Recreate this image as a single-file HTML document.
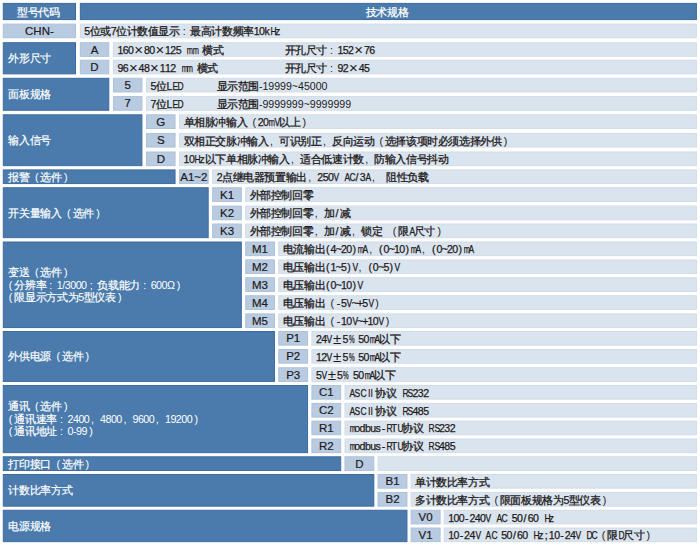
<!DOCTYPE html>
<html lang="zh"><head><meta charset="utf-8"><style>
*{margin:0;padding:0;box-sizing:border-box}
html,body{width:700px;height:545px;background:#fff;overflow:hidden}
body{position:relative;font-family:"Liberation Sans",sans-serif;}
svg{position:absolute;left:0;top:0}
div{position:absolute;display:flex;align-items:center;white-space:nowrap}
div>span{display:block;line-height:12px}
b.ln{display:block;font-weight:normal;line-height:12.6px} b.hg{margin-left:-4.9px}
i{display:inline-block;width:var(--cw);text-align:center;font-style:normal;font-size:var(--cf);-webkit-text-stroke:var(--sw) currentColor;line-height:10px}
i.pa,i.pb,i.pc2,i.pd,i.pc{text-align:left;-webkit-text-stroke:0;font-size:var(--fs)}
i.pa{padding-left:.5em} i.pb{padding-left:.22em} i.pc2{padding-left:.3em} i.pd{padding-left:.15em}
i.pc{font-size:15px;text-align:center;vertical-align:-1px}
i.r2{font-size:var(--fs);vertical-align:0;letter-spacing:-0.5px}
u{display:inline-block;width:.5em;text-align:center;text-decoration:none;-webkit-text-stroke:0.25px currentColor}
u.q9{transform:scaleX(.9)} u.q8{transform:scaleX(.8)} u.q7{transform:scaleX(.7)} u.q6{transform:scaleX(.6)} u.q5{transform:scaleX(.5)}
.mn{letter-spacing:0!important;word-spacing:0!important}
.hc{justify-content:center;--fs:10.8px;--cw:10.8px;--cf:11px;--sw:1px;font-size:10.8px;color:#fff;padding-right:2.2px;padding-top:1.2px}
.cc{justify-content:center;font-size:11.5px;-webkit-text-stroke:0.2px #1e1a1a;color:#1e1a1a}
.lab{--fs:10.7px;--cw:10.7px;--cf:11px;--sw:1px;font-size:10.7px;letter-spacing:-0.5px;padding-left:5.5px;color:#fff}
.ds{--fs:10.6px;--cw:10.6px;--cf:10.9px;--sw:1.2px;font-size:10.6px;padding-left:4.5px;padding-top:1.1px;color:#1e1a1a}
html.cjk .hc{--sw:0.25px} html.cjk .lab{--sw:0.2px} html.cjk .ds{--sw:0.3px}
</style></head>
<body>
<svg width="700" height="545" viewBox="0 0 700 545">
<rect x="3.30" y="3.40" width="72.20" height="16.20" fill="#4a7bac" stroke="#3c6b9f"/>
<rect x="80.34" y="3.40" width="616.06" height="16.20" fill="#4a7bac" stroke="#3c6b9f"/>
<rect x="3.30" y="24.10" width="72.20" height="13.66" fill="#b8cbe1" stroke="#adc1d9"/>
<rect x="80.34" y="24.10" width="616.06" height="13.66" fill="#dae4ee" stroke="#d1dce8"/>
<rect x="3.30" y="42.70" width="72.20" height="31.16" fill="#4a7bac" stroke="#3c6b9f"/>
<rect x="80.34" y="42.70" width="28.45" height="13.66" fill="#b8cbe1" stroke="#adc1d9"/>
<rect x="113.42" y="42.70" width="582.98" height="13.66" fill="#dae4ee" stroke="#d1dce8"/>
<rect x="80.34" y="60.20" width="28.45" height="13.66" fill="#b8cbe1" stroke="#adc1d9"/>
<rect x="113.42" y="60.20" width="582.98" height="13.66" fill="#dae4ee" stroke="#d1dce8"/>
<rect x="3.30" y="78.30" width="105.49" height="31.96" fill="#4a7bac" stroke="#3c6b9f"/>
<rect x="113.42" y="78.30" width="28.50" height="13.66" fill="#b8cbe1" stroke="#adc1d9"/>
<rect x="146.50" y="78.30" width="549.90" height="13.66" fill="#dae4ee" stroke="#d1dce8"/>
<rect x="113.42" y="96.60" width="28.50" height="13.66" fill="#b8cbe1" stroke="#adc1d9"/>
<rect x="146.50" y="96.60" width="549.90" height="13.66" fill="#dae4ee" stroke="#d1dce8"/>
<rect x="3.30" y="114.80" width="138.62" height="50.86" fill="#4a7bac" stroke="#3c6b9f"/>
<rect x="146.50" y="114.80" width="28.55" height="13.66" fill="#b8cbe1" stroke="#adc1d9"/>
<rect x="179.58" y="114.80" width="516.82" height="13.66" fill="#dae4ee" stroke="#d1dce8"/>
<rect x="146.50" y="133.40" width="28.55" height="13.66" fill="#b8cbe1" stroke="#adc1d9"/>
<rect x="179.58" y="133.40" width="516.82" height="13.66" fill="#dae4ee" stroke="#d1dce8"/>
<rect x="146.50" y="152.00" width="28.55" height="13.66" fill="#b8cbe1" stroke="#adc1d9"/>
<rect x="179.58" y="152.00" width="516.82" height="13.66" fill="#dae4ee" stroke="#d1dce8"/>
<rect x="3.30" y="169.90" width="171.75" height="13.66" fill="#4a7bac" stroke="#3c6b9f"/>
<rect x="179.58" y="169.90" width="28.60" height="13.66" fill="#b8cbe1" stroke="#adc1d9"/>
<rect x="212.66" y="169.90" width="483.74" height="13.66" fill="#dae4ee" stroke="#d1dce8"/>
<rect x="3.30" y="187.75" width="204.88" height="49.91" fill="#4a7bac" stroke="#3c6b9f"/>
<rect x="212.66" y="187.75" width="28.65" height="13.66" fill="#b8cbe1" stroke="#adc1d9"/>
<rect x="245.74" y="187.75" width="450.66" height="13.66" fill="#dae4ee" stroke="#d1dce8"/>
<rect x="212.66" y="206.10" width="28.65" height="13.66" fill="#b8cbe1" stroke="#adc1d9"/>
<rect x="245.74" y="206.10" width="450.66" height="13.66" fill="#dae4ee" stroke="#d1dce8"/>
<rect x="212.66" y="224.00" width="28.65" height="13.66" fill="#b8cbe1" stroke="#adc1d9"/>
<rect x="245.74" y="224.00" width="450.66" height="13.66" fill="#dae4ee" stroke="#d1dce8"/>
<rect x="3.30" y="242.00" width="238.01" height="85.56" fill="#4a7bac" stroke="#3c6b9f"/>
<rect x="245.74" y="242.00" width="28.70" height="13.66" fill="#b8cbe1" stroke="#adc1d9"/>
<rect x="278.82" y="242.00" width="417.58" height="13.66" fill="#dae4ee" stroke="#d1dce8"/>
<rect x="245.74" y="259.90" width="28.70" height="13.66" fill="#b8cbe1" stroke="#adc1d9"/>
<rect x="278.82" y="259.90" width="417.58" height="13.66" fill="#dae4ee" stroke="#d1dce8"/>
<rect x="245.74" y="277.75" width="28.70" height="13.66" fill="#b8cbe1" stroke="#adc1d9"/>
<rect x="278.82" y="277.75" width="417.58" height="13.66" fill="#dae4ee" stroke="#d1dce8"/>
<rect x="245.74" y="295.75" width="28.70" height="13.66" fill="#b8cbe1" stroke="#adc1d9"/>
<rect x="278.82" y="295.75" width="417.58" height="13.66" fill="#dae4ee" stroke="#d1dce8"/>
<rect x="245.74" y="313.90" width="28.70" height="13.66" fill="#b8cbe1" stroke="#adc1d9"/>
<rect x="278.82" y="313.90" width="417.58" height="13.66" fill="#dae4ee" stroke="#d1dce8"/>
<rect x="3.30" y="331.50" width="271.14" height="49.91" fill="#4a7bac" stroke="#3c6b9f"/>
<rect x="278.82" y="331.50" width="28.75" height="13.66" fill="#b8cbe1" stroke="#adc1d9"/>
<rect x="311.90" y="331.50" width="384.50" height="13.66" fill="#dae4ee" stroke="#d1dce8"/>
<rect x="278.82" y="349.50" width="28.75" height="13.66" fill="#b8cbe1" stroke="#adc1d9"/>
<rect x="311.90" y="349.50" width="384.50" height="13.66" fill="#dae4ee" stroke="#d1dce8"/>
<rect x="278.82" y="367.75" width="28.75" height="13.66" fill="#b8cbe1" stroke="#adc1d9"/>
<rect x="311.90" y="367.75" width="384.50" height="13.66" fill="#dae4ee" stroke="#d1dce8"/>
<rect x="3.30" y="385.50" width="304.27" height="67.16" fill="#4a7bac" stroke="#3c6b9f"/>
<rect x="311.90" y="385.50" width="28.80" height="13.66" fill="#b8cbe1" stroke="#adc1d9"/>
<rect x="344.98" y="385.50" width="351.42" height="13.66" fill="#dae4ee" stroke="#d1dce8"/>
<rect x="311.90" y="403.40" width="28.80" height="13.66" fill="#b8cbe1" stroke="#adc1d9"/>
<rect x="344.98" y="403.40" width="351.42" height="13.66" fill="#dae4ee" stroke="#d1dce8"/>
<rect x="311.90" y="421.10" width="28.80" height="13.66" fill="#b8cbe1" stroke="#adc1d9"/>
<rect x="344.98" y="421.10" width="351.42" height="13.66" fill="#dae4ee" stroke="#d1dce8"/>
<rect x="311.90" y="439.00" width="28.80" height="13.66" fill="#b8cbe1" stroke="#adc1d9"/>
<rect x="344.98" y="439.00" width="351.42" height="13.66" fill="#dae4ee" stroke="#d1dce8"/>
<rect x="3.30" y="456.80" width="337.40" height="13.66" fill="#4a7bac" stroke="#3c6b9f"/>
<rect x="344.98" y="456.80" width="28.85" height="13.66" fill="#b8cbe1" stroke="#adc1d9"/>
<rect x="378.06" y="456.80" width="318.34" height="13.66" fill="#dae4ee" stroke="#d1dce8"/>
<rect x="3.30" y="474.50" width="370.53" height="31.66" fill="#4a7bac" stroke="#3c6b9f"/>
<rect x="378.06" y="474.50" width="28.90" height="13.66" fill="#b8cbe1" stroke="#adc1d9"/>
<rect x="411.14" y="474.50" width="285.26" height="13.66" fill="#dae4ee" stroke="#d1dce8"/>
<rect x="378.06" y="492.50" width="28.90" height="13.66" fill="#b8cbe1" stroke="#adc1d9"/>
<rect x="411.14" y="492.50" width="285.26" height="13.66" fill="#dae4ee" stroke="#d1dce8"/>
<rect x="3.30" y="510.25" width="403.66" height="31.41" fill="#4a7bac" stroke="#3c6b9f"/>
<rect x="411.14" y="510.25" width="28.95" height="13.66" fill="#b8cbe1" stroke="#adc1d9"/>
<rect x="444.22" y="510.25" width="252.18" height="13.66" fill="#dae4ee" stroke="#d1dce8"/>
<rect x="411.14" y="528.00" width="28.95" height="13.66" fill="#b8cbe1" stroke="#adc1d9"/>
<rect x="444.22" y="528.00" width="252.18" height="13.66" fill="#dae4ee" stroke="#d1dce8"/>
</svg>
<div class="hc" style="left:2.8px;top:2.9px;width:73.2px;height:17.2px;"><span><i>型</i><i>号</i><i>代</i><i>码</i></span></div>
<div class="hc" style="left:79.8px;top:2.9px;width:617.1px;height:17.2px;"><span><i>技</i><i>术</i><i>规</i><i>格</i></span></div>
<div class="cc" style="left:2.8px;top:23.6px;width:73.2px;height:14.7px;"><span>CHN-</span></div>
<div class="ds mn" style="left:79.8px;top:23.6px;width:617.1px;height:14.7px;"><span><u>5</u><i>位</i><i>或</i><u>7</u><i>位</i><i>计</i><i>数</i><i>值</i><i>显</i><i>示</i><i class="pc2">:</i><i>最</i><i>高</i><i>计</i><i>数</i><i>频</i><i>率</i><u>1</u><u>0</u><u>k</u><u class="q8">H</u><u>z</u></span></div>
<div class="lab" style="left:2.8px;top:42.2px;width:73.2px;height:32.2px;"><span><i>外</i><i>形</i><i>尺</i><i>寸</i></span></div>
<div class="cc" style="left:79.8px;top:42.2px;width:29.4px;height:14.7px;"><span>A</span></div>
<div class="ds mn" style="left:112.9px;top:42.2px;width:584.0px;height:14.7px;"><span><u>1</u><u>6</u><u>0</u><i class="pc">×</i><u>8</u><u>0</u><i class="pc">×</i><u>1</u><u>2</u><u>5</u><u> </u><u class="q7">m</u><u class="q7">m</u><u> </u><i>横</i><i>式</i></span></div>
<div class="ds mn" style="left:280.0px;top:42.2px;width:416.9px;height:14.7px;"><span><i>开</i><i>孔</i><i>尺</i><i>寸</i><i class="pc2">:</i><u>1</u><u>5</u><u>2</u><i class="pc">×</i><u>7</u><u>6</u></span></div>
<div class="cc" style="left:79.8px;top:59.7px;width:29.4px;height:14.7px;"><span>D</span></div>
<div class="ds mn" style="left:112.9px;top:59.7px;width:584.0px;height:14.7px;"><span><u>9</u><u>6</u><i class="pc">×</i><u>4</u><u>8</u><i class="pc">×</i><u>1</u><u>1</u><u>2</u><u> </u><u class="q7">m</u><u class="q7">m</u><u> </u><i>横</i><i>式</i></span></div>
<div class="ds mn" style="left:280.0px;top:59.7px;width:416.9px;height:14.7px;"><span><i>开</i><i>孔</i><i>尺</i><i>寸</i><i class="pc2">:</i><u>9</u><u>2</u><i class="pc">×</i><u>4</u><u>5</u></span></div>
<div class="lab" style="left:2.8px;top:77.8px;width:106.5px;height:33.0px;"><span><i>面</i><i>板</i><i>规</i><i>格</i></span></div>
<div class="cc" style="left:112.9px;top:77.8px;width:29.5px;height:14.7px;"><span>5</span></div>
<div class="ds mn" style="left:146.0px;top:77.8px;width:550.9px;height:14.7px;"><span><u>5</u><i>位</i><u>L</u><u class="q8">E</u><u class="q8">D</u></span></div>
<div class="ds" style="left:212.0px;top:77.8px;width:484.9px;height:14.7px;"><span><i>显</i><i>示</i><i>范</i><i>围</i>-19999~45000</span></div>
<div class="cc" style="left:112.9px;top:96.1px;width:29.5px;height:14.7px;"><span>7</span></div>
<div class="ds mn" style="left:146.0px;top:96.1px;width:550.9px;height:14.7px;"><span><u>7</u><i>位</i><u>L</u><u class="q8">E</u><u class="q8">D</u></span></div>
<div class="ds" style="left:212.0px;top:96.1px;width:484.9px;height:14.7px;"><span><i>显</i><i>示</i><i>范</i><i>围</i>-9999999~9999999</span></div>
<div class="lab" style="left:2.8px;top:114.3px;width:139.6px;height:51.9px;"><span><i>输</i><i>入</i><i>信</i><i>号</i></span></div>
<div class="cc" style="left:146.0px;top:114.3px;width:29.6px;height:14.7px;"><span>G</span></div>
<div class="ds mn" style="left:179.1px;top:114.3px;width:517.8px;height:14.7px;"><span><i>单</i><i>相</i><i>脉</i><i>冲</i><i>输</i><i>入</i><i class="pa">(</i><u>2</u><u>0</u><u class="q7">m</u><u class="q8">V</u><i>以</i><i>上</i><i class="pb">)</i></span></div>
<div class="cc" style="left:146.0px;top:132.9px;width:29.6px;height:14.7px;"><span>S</span></div>
<div class="ds mn" style="left:179.1px;top:132.9px;width:517.8px;height:14.7px;"><span><i>双</i><i>相</i><i>正</i><i>交</i><i>脉</i><i>冲</i><i>输</i><i>入</i><i class="pd">,</i><i>可</i><i>识</i><i>别</i><i>正</i><i class="pd">,</i><i>反</i><i>向</i><i>运</i><i>动</i><i class="pa">(</i><i>选</i><i>择</i><i>该</i><i>项</i><i>时</i><i>必</i><i>须</i><i>选</i><i>择</i><i>外</i><i>供</i><i class="pb">)</i></span></div>
<div class="cc" style="left:146.0px;top:151.5px;width:29.6px;height:14.7px;"><span>D</span></div>
<div class="ds mn" style="left:179.1px;top:151.5px;width:517.8px;height:14.7px;"><span><u>1</u><u>0</u><u class="q8">H</u><u>z</u><i>以</i><i>下</i><i>单</i><i>相</i><i>脉</i><i>冲</i><i>输</i><i>入</i><i class="pd">,</i><i>适</i><i>合</i><i>低</i><i>速</i><i>计</i><i>数</i><i class="pd">,</i><i>防</i><i>输</i><i>入</i><i>信</i><i>号</i><i>抖</i><i>动</i></span></div>
<div class="lab" style="left:2.8px;top:169.4px;width:172.8px;height:14.7px;"><span><i>报</i><i>警</i><i class="pa">(</i><i>选</i><i>件</i><i class="pb">)</i></span></div>
<div class="cc" style="left:179.1px;top:169.4px;width:29.6px;height:14.7px;"><span>A1~2</span></div>
<div class="ds mn" style="left:212.2px;top:169.4px;width:484.7px;height:14.7px;"><span><u>2</u><i>点</i><i>继</i><i>电</i><i>器</i><i>预</i><i>置</i><i>输</i><i>出</i><i class="pd">,</i><u>2</u><u>5</u><u>0</u><u class="q8">V</u><u> </u><u class="q8">A</u><u class="q8">C</u><u>/</u><u>3</u><u class="q8">A</u><i class="pd">,</i><u> </u><i>阻</i><i>性</i><i>负</i><i>载</i></span></div>
<div class="lab" style="left:2.8px;top:187.2px;width:205.9px;height:50.9px;"><span><i>开</i><i>关</i><i>量</i><i>输</i><i>入</i><i class="pa">(</i><i>选</i><i>件</i><i class="pb">)</i></span></div>
<div class="cc" style="left:212.2px;top:187.2px;width:29.7px;height:14.7px;"><span>K1</span></div>
<div class="ds mn" style="left:245.2px;top:187.2px;width:451.7px;height:14.7px;"><span><i>外</i><i>部</i><i>控</i><i>制</i><i>回</i><i>零</i></span></div>
<div class="cc" style="left:212.2px;top:205.6px;width:29.7px;height:14.7px;"><span>K2</span></div>
<div class="ds mn" style="left:245.2px;top:205.6px;width:451.7px;height:14.7px;"><span><i>外</i><i>部</i><i>控</i><i>制</i><i>回</i><i>零</i><i class="pd">,</i><i>加</i><u>/</u><i>减</i></span></div>
<div class="cc" style="left:212.2px;top:223.5px;width:29.7px;height:14.7px;"><span>K3</span></div>
<div class="ds mn" style="left:245.2px;top:223.5px;width:451.7px;height:14.7px;"><span><i>外</i><i>部</i><i>控</i><i>制</i><i>回</i><i>零</i><i class="pd">,</i><i>加</i><u>/</u><i>减</i><i class="pd">,</i><i>锁</i><i>定</i><u> </u><i class="pa">(</i><i>限</i><u class="q8">A</u><i>尺</i><i>寸</i><i class="pb">)</i></span></div>
<div class="lab" style="left:2.8px;top:241.5px;width:239.0px;height:86.6px;"><span><b class="ln"><i>变</i><i>送</i><i class="pa">(</i><i>选</i><i>件</i><i class="pb">)</i></b><b class="ln hg"><i class="pa">(</i><i>分</i><i>辨</i><i>率</i><i class="pc2">:</i>1/3000<i class="pc2">;</i><i>负</i><i>载</i><i>能</i><i>力</i><i class="pc2">:</i>600Ω<i class="pb">)</i></b><b class="ln hg"><i class="pa">(</i><i>限</i><i>显</i><i>示</i><i>方</i><i>式</i><i>为</i>5<i>型</i><i>仪</i><i>表</i><i class="pb">)</i></b></span></div>
<div class="cc" style="left:245.2px;top:241.5px;width:29.7px;height:14.7px;"><span>M1</span></div>
<div class="ds mn" style="left:278.3px;top:241.5px;width:418.6px;height:14.7px;"><span><i>电</i><i>流</i><i>输</i><i>出</i><u>(</u><u>4</u><u>~</u><u>2</u><u>0</u><u>)</u><u class="q7">m</u><u class="q8">A</u><i class="pd">,</i><u>(</u><u>0</u><u>~</u><u>1</u><u>0</u><u>)</u><u class="q7">m</u><u class="q8">A</u><i class="pd">,</i><u>(</u><u>0</u><u>~</u><u>2</u><u>0</u><u>)</u><u class="q7">m</u><u class="q8">A</u></span></div>
<div class="cc" style="left:245.2px;top:259.4px;width:29.7px;height:14.7px;"><span>M2</span></div>
<div class="ds mn" style="left:278.3px;top:259.4px;width:418.6px;height:14.7px;"><span><i>电</i><i>压</i><i>输</i><i>出</i><u>(</u><u>1</u><u>~</u><u>5</u><u>)</u><u class="q8">V</u><i class="pd">,</i><u>(</u><u>0</u><u>~</u><u>5</u><u>)</u><u class="q8">V</u></span></div>
<div class="cc" style="left:245.2px;top:277.2px;width:29.7px;height:14.7px;"><span>M3</span></div>
<div class="ds mn" style="left:278.3px;top:277.2px;width:418.6px;height:14.7px;"><span><i>电</i><i>压</i><i>输</i><i>出</i><u>(</u><u>0</u><u>~</u><u>1</u><u>0</u><u>)</u><u class="q8">V</u></span></div>
<div class="cc" style="left:245.2px;top:295.2px;width:29.7px;height:14.7px;"><span>M4</span></div>
<div class="ds mn" style="left:278.3px;top:295.2px;width:418.6px;height:14.7px;"><span><i>电</i><i>压</i><i>输</i><i>出</i><i class="pa">(</i><u>-</u><u>5</u><u class="q8">V</u><u>~</u><u>+</u><u>5</u><u class="q8">V</u><i class="pb">)</i></span></div>
<div class="cc" style="left:245.2px;top:313.4px;width:29.7px;height:14.7px;"><span>M5</span></div>
<div class="ds mn" style="left:278.3px;top:313.4px;width:418.6px;height:14.7px;"><span><i>电</i><i>压</i><i>输</i><i>出</i><i class="pa">(</i><u>-</u><u>1</u><u>0</u><u class="q8">V</u><u>~</u><u>+</u><u>1</u><u>0</u><u class="q8">V</u><i class="pb">)</i></span></div>
<div class="lab" style="left:2.8px;top:331.0px;width:272.1px;height:50.9px;"><span><i>外</i><i>供</i><i>电</i><i>源</i><i class="pa">(</i><i>选</i><i>件</i><i class="pb">)</i></span></div>
<div class="cc" style="left:278.3px;top:331.0px;width:29.8px;height:14.7px;"><span>P1</span></div>
<div class="ds mn" style="left:311.4px;top:331.0px;width:385.5px;height:14.7px;"><span><u>2</u><u>4</u><u class="q8">V</u><i class="pc">±</i><u>5</u><u class="q6">%</u><u> </u><u>5</u><u>0</u><u class="q7">m</u><u class="q8">A</u><i>以</i><i>下</i></span></div>
<div class="cc" style="left:278.3px;top:349.0px;width:29.8px;height:14.7px;"><span>P2</span></div>
<div class="ds mn" style="left:311.4px;top:349.0px;width:385.5px;height:14.7px;"><span><u>1</u><u>2</u><u class="q8">V</u><i class="pc">±</i><u>5</u><u class="q6">%</u><u> </u><u>5</u><u>0</u><u class="q7">m</u><u class="q8">A</u><i>以</i><i>下</i></span></div>
<div class="cc" style="left:278.3px;top:367.2px;width:29.8px;height:14.7px;"><span>P3</span></div>
<div class="ds mn" style="left:311.4px;top:367.2px;width:385.5px;height:14.7px;"><span><u>5</u><u class="q8">V</u><i class="pc">±</i><u>5</u><u class="q6">%</u><u> </u><u>5</u><u>0</u><u class="q7">m</u><u class="q8">A</u><i>以</i><i>下</i></span></div>
<div class="lab" style="left:2.8px;top:385.0px;width:305.3px;height:68.2px;"><span><b class="ln"><i>通</i><i>讯</i><i class="pa">(</i><i>选</i><i>件</i><i class="pb">)</i></b><b class="ln hg"><i class="pa">(</i><i>通</i><i>讯</i><i>速</i><i>率</i><i class="pc2">:</i>2400<i class="pd">,</i>4800<i class="pd">,</i>9600<i class="pd">,</i>19200<i class="pb">)</i></b><b class="ln hg"><i class="pa">(</i><i>通</i><i>讯</i><i>地</i><i>址</i><i class="pc2">:</i>0-99<i class="pb">)</i></b></span></div>
<div class="cc" style="left:311.4px;top:385.0px;width:29.8px;height:14.7px;"><span>C1</span></div>
<div class="ds mn" style="left:344.5px;top:385.0px;width:352.4px;height:14.7px;"><span><u class="q8">A</u><u class="q8">S</u><u class="q8">C</u><i class="pc r2">II</i><i>协</i><i>议</i><u> </u><u class="q8">R</u><u class="q8">S</u><u>2</u><u>3</u><u>2</u></span></div>
<div class="cc" style="left:311.4px;top:402.9px;width:29.8px;height:14.7px;"><span>C2</span></div>
<div class="ds mn" style="left:344.5px;top:402.9px;width:352.4px;height:14.7px;"><span><u class="q8">A</u><u class="q8">S</u><u class="q8">C</u><i class="pc r2">II</i><i>协</i><i>议</i><u> </u><u class="q8">R</u><u class="q8">S</u><u>4</u><u>8</u><u>5</u></span></div>
<div class="cc" style="left:311.4px;top:420.6px;width:29.8px;height:14.7px;"><span>R1</span></div>
<div class="ds mn" style="left:344.5px;top:420.6px;width:352.4px;height:14.7px;"><span><u class="q7">m</u><u>o</u><u>d</u><u>b</u><u>u</u><u>s</u><u>-</u><u class="q8">R</u><u class="q9">T</u><u class="q8">U</u><i>协</i><i>议</i><u> </u><u class="q8">R</u><u class="q8">S</u><u>2</u><u>3</u><u>2</u></span></div>
<div class="cc" style="left:311.4px;top:438.5px;width:29.8px;height:14.7px;"><span>R2</span></div>
<div class="ds mn" style="left:344.5px;top:438.5px;width:352.4px;height:14.7px;"><span><u class="q7">m</u><u>o</u><u>d</u><u>b</u><u>u</u><u>s</u><u>-</u><u class="q8">R</u><u class="q9">T</u><u class="q8">U</u><i>协</i><i>议</i><u> </u><u class="q8">R</u><u class="q8">S</u><u>4</u><u>8</u><u>5</u></span></div>
<div class="lab" style="left:2.8px;top:456.3px;width:338.4px;height:14.7px;"><span><i>打</i><i>印</i><i>接</i><i>口</i><i class="pa">(</i><i>选</i><i>件</i><i class="pb">)</i></span></div>
<div class="cc" style="left:344.5px;top:456.3px;width:29.9px;height:14.7px;"><span>D</span></div>
<div class="lab" style="left:2.8px;top:474.0px;width:371.5px;height:32.7px;"><span><i>计</i><i>数</i><i>比</i><i>率</i><i>方</i><i>式</i></span></div>
<div class="cc" style="left:377.6px;top:474.0px;width:29.9px;height:14.7px;"><span>B1</span></div>
<div class="ds mn" style="left:410.6px;top:474.0px;width:286.3px;height:14.7px;"><span><i>单</i><i>计</i><i>数</i><i>比</i><i>率</i><i>方</i><i>式</i></span></div>
<div class="cc" style="left:377.6px;top:492.0px;width:29.9px;height:14.7px;"><span>B2</span></div>
<div class="ds mn" style="left:410.6px;top:492.0px;width:286.3px;height:14.7px;"><span><i>多</i><i>计</i><i>数</i><i>比</i><i>率</i><i>方</i><i>式</i><i class="pa">(</i><i>限</i><i>面</i><i>板</i><i>规</i><i>格</i><i>为</i><u>5</u><i>型</i><i>仪</i><i>表</i><i class="pb">)</i></span></div>
<div class="lab" style="left:2.8px;top:509.8px;width:404.7px;height:32.4px;"><span><i>电</i><i>源</i><i>规</i><i>格</i></span></div>
<div class="cc" style="left:410.6px;top:509.8px;width:30.0px;height:14.7px;"><span>V0</span></div>
<div class="ds mn" style="left:443.7px;top:509.8px;width:253.2px;height:14.7px;"><span><u>1</u><u>0</u><u>0</u><u>-</u><u>2</u><u>4</u><u>0</u><u class="q8">V</u><u> </u><u class="q8">A</u><u class="q8">C</u><u> </u><u>5</u><u>0</u><u>/</u><u>6</u><u>0</u><u> </u><u class="q8">H</u><u>z</u></span></div>
<div class="cc" style="left:410.6px;top:527.5px;width:30.0px;height:14.7px;"><span>V1</span></div>
<div class="ds mn" style="left:443.7px;top:527.5px;width:253.2px;height:14.7px;"><span><u>1</u><u>0</u><u>-</u><u>2</u><u>4</u><u class="q8">V</u><u> </u><u class="q8">A</u><u class="q8">C</u><u> </u><u>5</u><u>0</u><u>/</u><u>6</u><u>0</u><u> </u><u class="q8">H</u><u>z</u><u>;</u><u>1</u><u>0</u><u>-</u><u>2</u><u>4</u><u class="q8">V</u><u> </u><u class="q8">D</u><u class="q8">C</u><i class="pa">(</i><i>限</i><u class="q8">D</u><i>尺</i><i>寸</i><i class="pb">)</i></span></div>
<script>(function(){var s=document.createElement('span');s.style.cssText='position:absolute;left:-999px;top:0;visibility:hidden;white-space:nowrap;font-family:"Liberation Sans",sans-serif;font-size:100px';s.textContent='字';document.body.appendChild(s);var w=s.getBoundingClientRect().width;document.body.removeChild(s);if(w>90)document.documentElement.className+=' cjk';})();</script>
</body></html>
